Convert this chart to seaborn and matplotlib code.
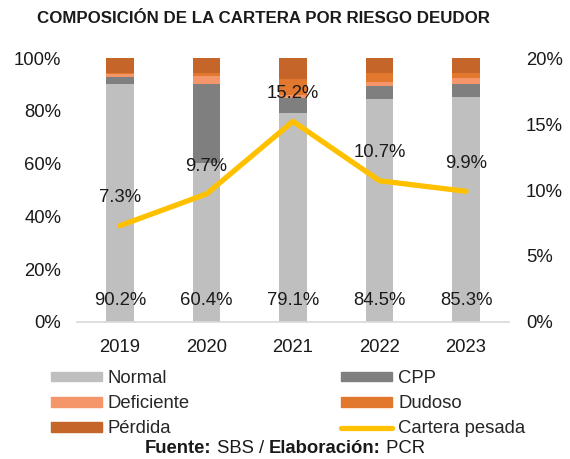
import numpy as np
import matplotlib
matplotlib.use("Agg")
import matplotlib.pyplot as plt
import seaborn as sns
from matplotlib.patches import Patch
from matplotlib.lines import Line2D
from matplotlib.ticker import FuncFormatter
from matplotlib.offsetbox import TextArea, HPacker, AnchoredOffsetbox

# data (share of portfolio, %)
years = ["2019", "2020", "2021", "2022", "2023"]
normal = [90.2, 60.4, 79.1, 84.5, 85.3]
cpp = [2.6, 29.9, 5.7, 4.8, 4.8]
deficiente = [1.1, 2.7, 1.2, 1.5, 2.5]
dudoso = [0.6, 1.3, 6.2, 3.5, 1.6]
perdida = [5.5, 5.7, 7.8, 5.7, 5.8]
cartera_pesada = [7.3, 9.7, 15.2, 10.7, 9.9]

series = [
    ("Normal", normal, "#BFBFBF"),
    ("CPP", cpp, "#7F7F7F"),
    ("Deficiente", deficiente, "#F4956A"),
    ("Dudoso", dudoso, "#E2772E"),
    ("Pérdida", perdida, "#C5652A"),
]
line_color = "#FFC000"
txt_color = "#1a1a1a"

sns.set_style("white")
plt.rcParams["font.family"] = ["Liberation Sans", "DejaVu Sans"]
fs = 13.3

fig = plt.figure(figsize=(5.7, 4.59), dpi=100)
ax = fig.add_axes([0.1346, 0.2985, 0.7589, 0.5751])

bottom = np.zeros(len(years))
for name, vals, color in series:
    vals = np.array(vals)
    sns.barplot(x=years, y=vals, bottom=bottom, color=color, width=0.32,
                ax=ax, saturation=1, linewidth=0)
    bottom += vals

for i, v in enumerate(normal):
    ax.text(i, 8, f"{v:.1f}%", ha="center", va="center", fontsize=fs, color=txt_color)

ax.set_ylim(0, 100)
ax.set_yticks(np.arange(0, 101, 20))
ax.yaxis.set_major_formatter(FuncFormatter(lambda v, p: f"{v:.0f}%"))
ax.set_xlabel("")
ax.set_ylabel("")
ax.tick_params(axis="y", labelsize=fs, colors=txt_color, length=0, pad=11)
ax.tick_params(axis="x", labelsize=fs, colors=txt_color, length=0, pad=12)
for s in ["top", "right", "left"]:
    ax.spines[s].set_visible(False)
ax.spines["bottom"].set_color("#D9D9D9")
ax.spines["bottom"].set_linewidth(1.2)

ax2 = ax.twinx()
x_pos = np.arange(len(years))
sns.lineplot(x=x_pos, y=cartera_pesada, ax=ax2, color=line_color, linewidth=3.8,
             solid_capstyle="round")
ax2.set_ylim(0, 20)
ax2.set_yticks(np.arange(0, 21, 5))
ax2.yaxis.set_major_formatter(FuncFormatter(lambda v, p: f"{v:.0f}%"))
ax2.tick_params(axis="y", labelsize=fs, colors=txt_color, length=0, pad=12)
for s in ["top", "right", "left", "bottom"]:
    ax2.spines[s].set_visible(False)
ax2.set_ylabel("")
for i, v in enumerate(cartera_pesada):
    ax2.annotate(f"{v:.1f}%", (i, v), xytext=(0, 20), textcoords="offset points",
                 ha="center", va="center", fontsize=fs, color=txt_color)
ax.set_xlim(-0.5, 4.5)

fig.text(0.462, 0.959, "COMPOSICIÓN DE LA CARTERA POR RIESGO DEUDOR", ha="center",
         va="center", fontsize=12.2, fontweight="bold", color=txt_color)

handles = [
    Patch(color=series[0][2], label="Normal"),
    Patch(color=series[2][2], label="Deficiente"),
    Patch(color=series[4][2], label="Pérdida"),
    Patch(color=series[1][2], label="CPP"),
    Patch(color=series[3][2], label="Dudoso"),
    Line2D([], [], color=line_color, linewidth=3.8, solid_capstyle="round",
           label="Cartera pesada"),
]
fig.legend(handles=handles, ncol=2, loc="upper left", bbox_to_anchor=(0.089, 0.1935),
           frameon=False, fontsize=fs, handlelength=2.76, handleheight=0.43,
           handletextpad=0.32, labelspacing=0.44, columnspacing=8.2,
           borderpad=0, borderaxespad=0)

# source line with mixed bold / regular
parts = [("Fuente:", "bold"), (" SBS / ", "normal"), ("Elaboración:", "bold"), (" PCR", "normal")]
boxes = [TextArea(t, textprops=dict(fontsize=fs, fontweight=w, color=txt_color))
         for t, w in parts]
packer = HPacker(children=boxes, align="baseline", pad=0, sep=0)
src = AnchoredOffsetbox(loc="center", child=packer, frameon=False, pad=0,
                        bbox_to_anchor=(0.5, 0.022), bbox_transform=fig.transFigure,
                        borderpad=0)
fig.add_artist(src)

fig.savefig("out.png", dpi=100)
